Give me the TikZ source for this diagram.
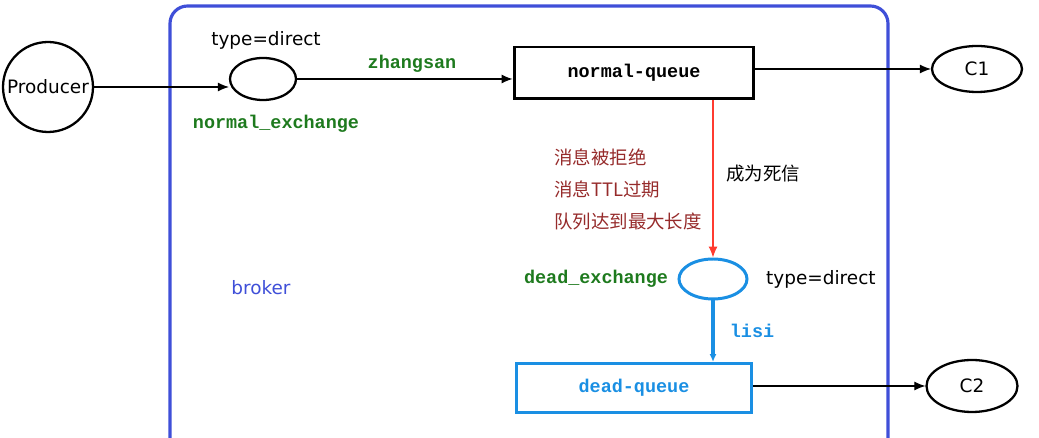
\documentclass[tikz,border=0pt]{standalone}
\usepackage{fontspec}
\setmainfont{DejaVu Sans}
\setmonofont{Liberation Mono}
\newfontfamily\cjk{Noto Sans CJK SC}
\usepackage{xcolor}
\usepackage{tikz}
\usetikzlibrary{arrows.meta,positioning,calc,shapes.geometric}

\definecolor{brokerblue}{HTML}{3F4FD8}
\definecolor{deadblue}{HTML}{1A8FE3}
\definecolor{keygreen}{HTML}{1E7A1E}
\definecolor{reasonred}{HTML}{962B2B}
\definecolor{deadred}{HTML}{FF3B30}

\begin{document}
\begin{tikzpicture}[x=0.02cm, y=-0.02cm,
    conn/.style={-{Latex[length=2.2mm,width=1.8mm]}, line width=0.6pt},
    keylabel/.style={font=\ttfamily\bfseries\fontsize{10.5}{12}\selectfont, text=keygreen},
    plain/.style={font=\fontsize{10.5}{12}\selectfont}]
  \useasboundingbox (0,0) rectangle (1039,438);

  % Broker area
  \draw[brokerblue, line width=1.8pt, rounded corners=0.35cm] (170,470) -- (170,6) -- (888,6) -- (888,470);
  \node[plain, text=brokerblue] (broker) at (261,288) {broker};

  % Producer and normal exchange
  \node[circle, draw, line width=1.3pt, minimum size=1.8cm, inner sep=0pt, plain] (producer) at (48,87) {Producer};
  \node[ellipse, draw, line width=1.3pt, minimum width=1.32cm, minimum height=0.84cm] (nx) at (263,79) {};
  \node[plain] (nxtype) at (266,40) {type=direct};
  \node[keylabel] (nxname) at (276,124) {normal\_exchange};

  % Normal queue
  \node[rectangle, draw, line width=1.7pt, minimum width=4.8cm, minimum height=1.04cm,
        font=\ttfamily\bfseries\fontsize{10.5}{12}\selectfont] (nq) at (634,73) {normal-queue};
  \node[keylabel] (zhangsan) at (412,64) {zhangsan};

  % Consumers
  \node[ellipse, draw, line width=1.3pt, minimum width=1.8cm, minimum height=0.92cm, plain] (c1) at (977,69) {C1};
  \node[ellipse, draw, line width=1.3pt, minimum width=1.82cm, minimum height=1.04cm, plain] (c2) at (972,386) {C2};

  % Dead letter exchange and queue
  \node[ellipse, draw=deadblue, line width=1.7pt, minimum width=1.36cm, minimum height=0.8cm] (dx) at (713,279) {};
  \node[keylabel] (dxname) at (596,279) {dead\_exchange};
  \node[plain, anchor=west] (dxtype) at (760,279) {type=direct};
  \node[rectangle, draw=deadblue, line width=1.7pt, minimum width=4.7cm, minimum height=0.98cm,
        font=\ttfamily\bfseries\fontsize{10.5}{12}\selectfont, text=deadblue] (dq) at (634,388) {dead-queue};
  \node[font=\ttfamily\bfseries\fontsize{10.5}{12}\selectfont, text=deadblue] (lisi) at (752,331) {lisi};

  % Reasons for dead letters
  \node[font=\cjk\fontsize{10.5}{12}\selectfont, text=reasonred, anchor=west] (r1) at (548,157) {消息被拒绝};
  \node[font=\cjk\fontsize{10.5}{12}\selectfont, text=reasonred, anchor=west] (r2) at (548,189) {消息TTL过期};
  \node[font=\cjk\fontsize{10.5}{12}\selectfont, text=reasonred, anchor=west] (r3) at (548,221) {队列达到最大长度};
  \node[font=\cjk\fontsize{10.5}{12}\selectfont] (dead) at (763,174) {成为死信};

  % Connectors
  \draw[conn] (producer.east) -- (producer.east -| nx.west);
  \draw[conn] (nx.east) -- (nx.east -| nq.west);
  \draw[conn] (nq.east |- c1.west) -- (c1.west);
  \draw[conn, deadred] (nq.south -| dx.north) -- (dx.north);
  \draw[-{Latex[length=1.6mm,width=1.4mm]}, deadblue, line width=2pt] (dx.south) -- (dx.south |- dq.north);
  \draw[conn] (dq.east |- c2.west) -- (c2.west);
\end{tikzpicture}
\end{document}
